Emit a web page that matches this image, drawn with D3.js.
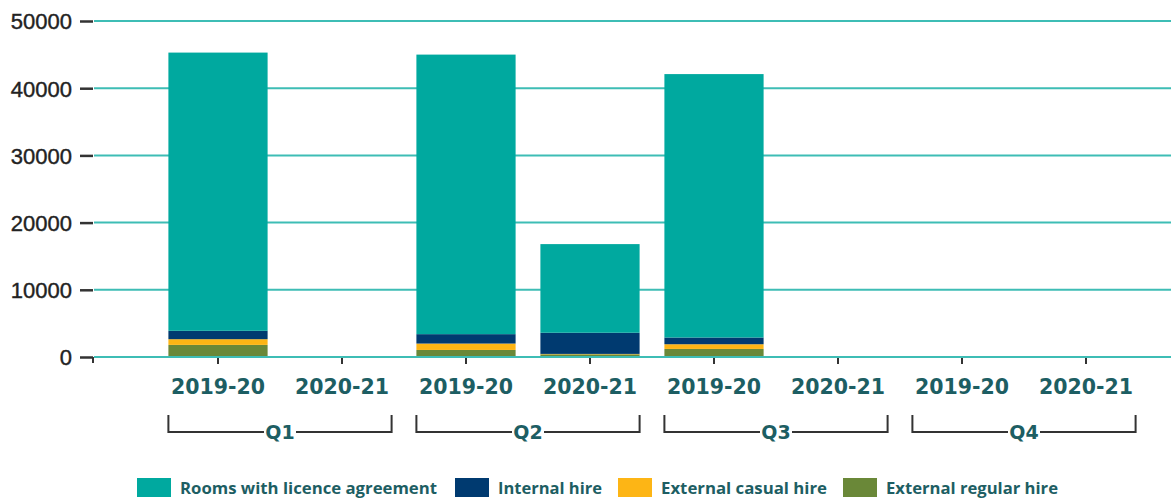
<!DOCTYPE html>
<html>
<head>
<meta charset="utf-8">
<script src="https://cdn.jsdelivr.net/npm/d3@7"></script>
<style>
  html, body { margin: 0; padding: 0; background: #fff; }
  svg { display: block; }
</style>
</head>
<body>
<svg id="chart" width="1171" height="500"></svg>
<script>
// Room usage by quarter and financial year
const quarters = ["Q1", "Q2", "Q3", "Q4"];
const years = ["2019-20", "2020-21"];
const seriesNames = ["External regular hire", "External casual hire", "Internal hire", "Rooms with licence agreement"];
const legendOrder = ["Rooms with licence agreement", "Internal hire", "External casual hire", "External regular hire"];

// One value per quarter/year column, Q1 2019-20 through Q4 2020-21
const externalRegular = [1800, 0, 1050, 400, 1200, 0, 0, 0];
const externalCasual  = [850, 0, 950, 60, 700, 0, 0, 0];
const internalHire    = [1250, 0, 1400, 3150, 1000, 0, 0, 0];
const licenceRooms    = [41400, 0, 41600, 13190, 39200, 0, 0, 0];

const yTicks = [0, 10000, 20000, 30000, 40000, 50000];

const colors = {
  "Rooms with licence agreement": "#00A99F",
  "Internal hire": "#003A70",
  "External casual hire": "#FDB515",
  "External regular hire": "#6A8838"
};

const columns = [];
quarters.forEach(q => years.forEach(y => columns.push({ key: q + "|" + y, quarter: q, year: y })));
const table = columns.map((c, i) => ({
  key: c.key,
  "External regular hire": externalRegular[i],
  "External casual hire": externalCasual[i],
  "Internal hire": internalHire[i],
  "Rooms with licence agreement": licenceRooms[i]
}));

const svg = d3.select("#chart");
const labelTeal = "#1D5E63";

const x = d3.scaleBand().domain(columns.map(c => c.key)).range([156, 1148]).paddingInner(0.2).paddingOuter(0.1);
const y = d3.scaleLinear().domain([0, 50000]).range([357, 21]);

// Gridlines
svg.append("g").selectAll("line").data(yTicks).join("line")
  .attr("x1", 94).attr("x2", 1171)
  .attr("y1", d => y(d)).attr("y2", d => y(d))
  .attr("stroke", "#3EBDB5").attr("stroke-width", 2);

// Y axis ticks and labels
const yAxis = d3.axisLeft(y).tickValues(yTicks).tickSize(13).tickPadding(8).tickFormat(d3.format("d"));
const gy = svg.append("g").attr("transform", "translate(93,0)").call(yAxis);
gy.select(".domain").remove();
gy.selectAll(".tick line").attr("stroke", "#333").attr("stroke-width", 2.5);
gy.selectAll(".tick text").attr("font-family", "Liberation Sans, Arial, sans-serif")
  .attr("font-size", 22).attr("fill", "#222").attr("stroke", "#222").attr("stroke-width", 0.4)
  .attr("dy", "0.36em");
gy.append("line").attr("x1", 0).attr("x2", 0).attr("y1", y(0)).attr("y2", y(0) + 6)
  .attr("stroke", "#333").attr("stroke-width", 2);

// Stacked bars
const stack = d3.stack().keys(seriesNames);
const layers = stack(table);
svg.append("g").selectAll("g").data(layers).join("g")
  .attr("fill", d => colors[d.key])
  .selectAll("rect").data(d => d).join("rect")
  .attr("x", d => x(d.data.key))
  .attr("width", x.bandwidth())
  .attr("y", d => y(d[1]))
  .attr("height", d => Math.max(0, y(d[0]) - y(d[1])));

// Baseline redrawn over bar bottoms
svg.append("line").attr("x1", 94).attr("x2", 1171).attr("y1", y(0)).attr("y2", y(0))
  .attr("stroke", "#3EBDB5").attr("stroke-width", 2);

// X ticks and year labels
const xAxis = d3.axisBottom(x).tickSize(6).tickPadding(15).tickFormat(k => k.split("|")[1]);
const gx = svg.append("g").attr("transform", `translate(0,${y(0) + 1})`).call(xAxis);
gx.select(".domain").remove();
gx.selectAll(".tick line").attr("stroke", "#333").attr("stroke-width", 2);
gx.selectAll(".tick text").attr("font-family", "DejaVu Sans, Verdana, sans-serif")
  .attr("font-weight", "bold").attr("font-size", 20.5).attr("fill", labelTeal);

// Quarter brackets
const qg = svg.append("g");
quarters.forEach(q => {
  const x0 = x(q + "|" + years[0]);
  const x1 = x(q + "|" + years[1]) + x.bandwidth();
  const mid = (x0 + x1) / 2;
  const yb = 432, yt = 415, gap = 16;
  qg.append("path")
    .attr("d", `M${x0},${yt}V${yb}H${mid - gap}M${mid + gap},${yb}H${x1}V${yt}`)
    .attr("fill", "none").attr("stroke", "#333").attr("stroke-width", 2);
  qg.append("text").attr("x", mid).attr("y", yb).attr("dy", "0.36em")
    .attr("text-anchor", "middle")
    .attr("font-family", "DejaVu Sans, Verdana, sans-serif").attr("font-weight", "bold")
    .attr("font-size", 19).attr("fill", labelTeal).text(q);
});

// Legend
const legendX = [137, 455, 618, 843];
const legendW = [257, 104, 166, 172];
const lg = svg.append("g");
legendOrder.forEach((name, i) => {
  lg.append("rect").attr("x", legendX[i]).attr("y", 478).attr("width", 34).attr("height", 19)
    .attr("fill", colors[name]);
  lg.append("text").attr("x", legendX[i] + 43).attr("y", 488).attr("dy", "0.35em")
    .attr("font-family", "Open Sans, sans-serif").attr("font-weight", "bold")
    .attr("font-size", 16).attr("fill", labelTeal)
    .attr("textLength", legendW[i]).attr("lengthAdjust", "spacingAndGlyphs")
    .text(name);
});
</script>
</body>
</html>
